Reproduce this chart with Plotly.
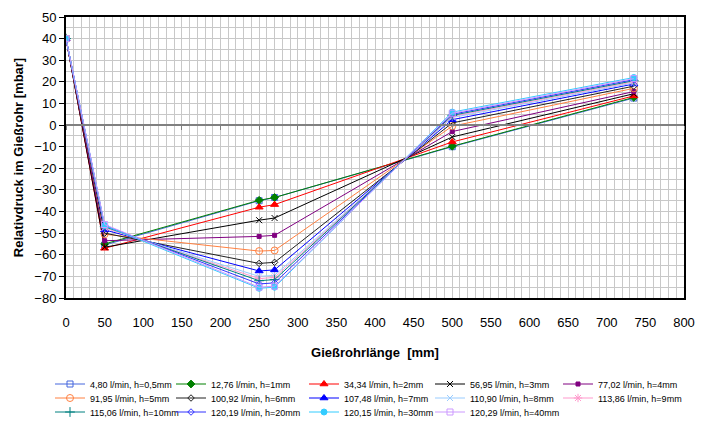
import plotly.graph_objects as go

# ---- data -------------------------------------------------------------
positions_mm = [0, 50, 250, 270, 500, 735]

series_names = [
    "4,80 l/min, h=0,5mm", "12,76 l/min, h=1mm", "34,34 l/min, h=2mm",
    "56,95 l/min, h=3mm", "77,02 l/min, h=4mm", "91,95 l/min, h=5mm",
    "100,92 l/min, h=6mm", "107,48 l/min, h=7mm", "110,90 l/min, h=8mm",
    "113,86 l/min, h=9mm", "115,06 l/min, h=10mm", "120,19 l/min, h=20mm",
    "120,15 l/min, h=30mm", "120,29 l/min, h=40mm",
]

p_h0_5 = [40, -55.5, -35.0, -33.5, -10.0, 12.5]
p_h1 = [40, -55.0, -34.8, -33.5, -9.8, 12.8]
p_h2 = [40, -57.0, -38.0, -36.8, -7.8, 13.5]
p_h3 = [40, -56.5, -44.0, -43.0, -5.5, 14.5]
p_h4 = [40, -53.5, -51.5, -51.0, -3.0, 15.5]
p_h5 = [40, -50.5, -58.3, -58.0, -0.5, 17.0]
p_h6 = [40, -50.0, -64.0, -63.5, 1.0, 18.0]
p_h7 = [40, -48.5, -67.5, -67.0, 2.5, 19.0]
p_h8 = [40, -47.5, -70.0, -69.5, 3.5, 19.5]
p_h9 = [40, -47.5, -71.0, -70.5, 4.0, 20.0]
p_h10 = [40, -47.0, -72.0, -71.5, 4.5, 20.5]
p_h20 = [40, -46.5, -73.5, -73.0, 5.0, 21.0]
p_h30 = [40, -46.5, -75.5, -75.0, 6.0, 22.0]
p_h40 = [40, -46.0, -75.0, -74.5, 5.5, 21.5]

series_values = [p_h0_5, p_h1, p_h2, p_h3, p_h4, p_h5, p_h6, p_h7,
                 p_h8, p_h9, p_h10, p_h20, p_h30, p_h40]

x_tick_values = list(range(0, 801, 50))
y_tick_values = list(range(-80, 51, 10))

# ---- styles -----------------------------------------------------------
colors = ["#4466DD", "#008000", "#FF0000", "#000000", "#800080", "#FF8040",
          "#202020", "#0000FF", "#99CCFF", "#FF99CC", "#008080", "#3333FF",
          "#33CCFF", "#CC99FF"]
symbols = ["square-open", "diamond", "triangle-up", "x-thin-open", "square",
           "circle-open", "diamond-open", "triangle-up", "x-thin-open",
           "asterisk-open", "cross-thin-open", "diamond-open", "circle",
           "square-open"]
sizes = [6, 6, 7, 6, 4, 7, 5, 7, 6, 7, 7, 5, 6, 6]

FONT = "Liberation Sans, Arial, sans-serif"

W, H = 706, 421
L, R, T, B = 66, 22, 17, 123
pw = W - L - R
ph = H - T - B


def px_x(px):
    return (px - L) / pw


def px_y(py):
    return (H - B - py) / ph


# legend grid (5 columns x 3 rows), text start / row centre in pixels
col_text_px = [92, 213, 346, 472, 600]
row_mid_px = [384, 398, 412]

fig = go.Figure()
layout_legends = {}
for i, (name, vals) in enumerate(zip(series_names, series_values)):
    key = "legend" if i == 0 else f"legend{i + 1}"
    fig.add_trace(go.Scatter(
        x=positions_mm, y=vals, name=name, mode="lines+markers",
        line=dict(color=colors[i], width=1),
        marker=dict(symbol=symbols[i], size=sizes[i], color=colors[i],
                    line=dict(color=colors[i], width=1)),
        legend=key,
    ))
    layout_legends[key] = dict(
        x=px_x(col_text_px[i % 5] - 42), y=px_y(row_mid_px[i // 5]),
        xanchor="left", yanchor="middle", orientation="v",
        font=dict(family=FONT, size=9, color="#000000"),
        bgcolor="rgba(0,0,0,0)", itemwidth=30,
    )

# helper trace so the zero-crossing category axis (xaxis2) is drawn
fig.add_trace(go.Scatter(x=[None], y=[None], xaxis="x2", yaxis="y",
                         showlegend=False, hoverinfo="skip"))

grid_col = "#C8C8C8"
fig.update_layout(
    width=W, height=H,
    margin=dict(l=L, r=R, t=T, b=B, autoexpand=False),
    paper_bgcolor="white", plot_bgcolor="white",
    font=dict(family=FONT, size=13, color="#000000"),
    showlegend=True,
    **layout_legends,
    xaxis=dict(
        range=[0, 800], tickvals=x_tick_values,
        ticktext=[str(v) for v in x_tick_values],
        showgrid=True, gridcolor=grid_col, gridwidth=1,
        minor=dict(dtick=10, showgrid=True, gridcolor=grid_col, gridwidth=1),
        showline=True, linecolor="#000000", linewidth=2, mirror=True,
        ticks="", ticklabelstandoff=11, zeroline=False, automargin=False,
        tickfont=dict(family=FONT, size=13),
        title=dict(text="<b>Gießrohrlänge\u00a0 [mm]</b>", standoff=19,
                   font=dict(family=FONT, size=13)),
    ),
    yaxis=dict(
        range=[-80, 50], tickvals=y_tick_values,
        showgrid=True, gridcolor=grid_col, gridwidth=1,
        minor=dict(dtick=5, showgrid=True, gridcolor=grid_col, gridwidth=1),
        showline=True, linecolor="#000000", linewidth=2, mirror=True,
        ticks="outside", ticklen=5, tickcolor="#000000", tickwidth=1,
        zeroline=False, automargin=False,
        tickfont=dict(family=FONT, size=13),
        title=dict(text="<b>Relativdruck im Gießrohr [mbar]</b>", standoff=8,
                   font=dict(family=FONT, size=13)),
    ),
    xaxis2=dict(
        overlaying="x", anchor="free", position=(0 - (-80)) / 130,
        range=[0, 800], tickvals=x_tick_values, showticklabels=False,
        showgrid=False, zeroline=False, automargin=False,
        showline=True, linecolor="#808080", linewidth=2,
        ticks="outside", ticklen=4, tickcolor="#808080", tickwidth=1,
    ),
)

fig.write_html("out.html",
               config={"displayModeBar": False},
               post_script="document.body.style.margin='0px';")
